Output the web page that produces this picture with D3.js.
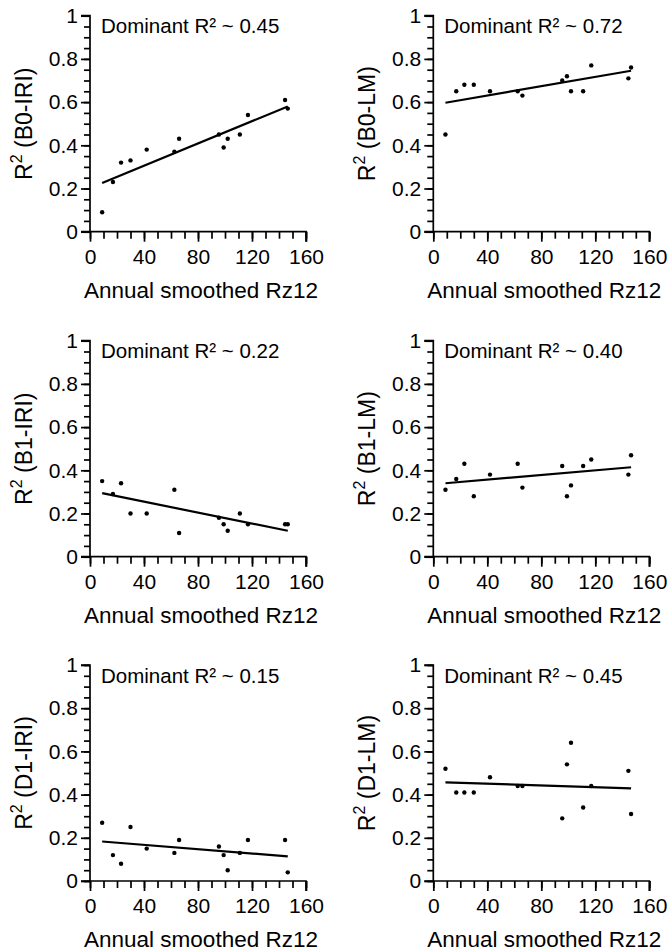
<!DOCTYPE html>
<html>
<head>
<meta charset="utf-8">
<script src="https://cdn.jsdelivr.net/npm/d3@7"></script>
<style>
  body { margin: 0; background: #fff; }
  svg text { font-family: "Liberation Sans", Arial, sans-serif; fill: #000; }
</style>
</head>
<body>
<div id="chart"></div>
<script>
// annual smoothed sunspot number (same for every panel)
var rz12 = [9, 17, 23, 30, 42, 62.5, 66, 95.5, 99, 102, 111, 117, 144.5, 146.5];

var b0Iri = [0.09, 0.23, 0.32, 0.33, 0.38, 0.37, 0.43, 0.45, 0.39, 0.43, 0.45, 0.54, 0.61, 0.57];
var b0Lm  = [0.45, 0.65, 0.68, 0.68, 0.65, 0.65, 0.63, 0.70, 0.72, 0.65, 0.65, 0.77, 0.71, 0.76];
var b1Iri = [0.35, 0.29, 0.34, 0.20, 0.20, 0.31, 0.11, 0.18, 0.15, 0.12, 0.20, 0.15, 0.15, 0.15];
var b1Lm  = [0.31, 0.36, 0.43, 0.28, 0.38, 0.43, 0.32, 0.42, 0.28, 0.33, 0.42, 0.45, 0.38, 0.47];
var d1Iri = [0.27, 0.12, 0.08, 0.25, 0.15, 0.13, 0.19, 0.16, 0.12, 0.05, 0.13, 0.19, 0.19, 0.04];
var d1Lm  = [0.52, 0.41, 0.41, 0.41, 0.48, 0.44, 0.44, 0.29, 0.54, 0.64, 0.34, 0.44, 0.51, 0.31];

// linear fit values at the first and last Rz12
var fitX = [9, 146.5];
var fitB0Iri = [0.225, 0.58];
var fitB0Lm  = [0.597, 0.745];
var fitB1Iri = [0.294, 0.12];
var fitB1Lm  = [0.34, 0.414];
var fitD1Iri = [0.183, 0.114];
var fitD1Lm  = [0.457, 0.429];

var panelNames = ["B0-IRI", "B0-LM", "B1-IRI", "B1-LM", "D1-IRI", "D1-LM"];
var dominant = ["0.45", "0.72", "0.22", "0.40", "0.15", "0.45"];
var xTicks = [0, 40, 80, 120, 160];
var yTicks = [0, 0.2, 0.4, 0.6, 0.8, 1];

var series = [b0Iri, b0Lm, b1Iri, b1Lm, d1Iri, d1Lm];
var fits = [fitB0Iri, fitB0Lm, fitB1Iri, fitB1Lm, fitD1Iri, fitD1Lm];

var W = 668, H = 952,
    size = 216,
    colLeft = [90, 433.3],
    rowTop = [15.7, 340.7, 665];

var svg = d3.select("#chart").append("svg")
    .attr("width", W).attr("height", H);

var x = d3.scaleLinear().domain([0, 160]).range([0, size]),
    y = d3.scaleLinear().domain([0, 1]).range([size, 0]);

panelNames.forEach(function (name, i) {
    var g = svg.append("g")
        .attr("transform", "translate(" + colLeft[i % 2] + "," + rowTop[Math.floor(i / 2)] + ")");

    // minor ticks
    g.append("g")
        .call(d3.axisLeft(y).tickValues(d3.range(0, 1.001, 0.05)).tickSize(6).tickFormat(""))
        .call(function (a) { a.select(".domain").remove(); });
    g.append("g")
        .attr("transform", "translate(0," + size + ")")
        .call(d3.axisBottom(x).tickValues(d3.range(0, 161, 10)).tickSize(7).tickFormat(""))
        .call(function (a) { a.select(".domain").remove(); });

    // major ticks + labels
    var ya = g.append("g")
        .call(d3.axisLeft(y).tickValues(yTicks).tickSize(9).tickPadding(3)
            .tickFormat(function (d) { return String(+d.toFixed(1)); }));
    ya.select(".domain").attr("d", "M-9," + size + "H0V0H-9");
    var xa = g.append("g")
        .attr("transform", "translate(0," + size + ")")
        .call(d3.axisBottom(x).tickValues(xTicks).tickSize(10).tickPadding(7));
    xa.select(".domain").attr("d", "M0,0H" + size + "V10");

    g.selectAll(".tick line, .domain").attr("stroke", "#000").attr("stroke-width", 1.7);
    g.selectAll(".tick text").style("font-size", "21px");

    // regression line
    g.append("line")
        .attr("x1", x(fitX[0])).attr("y1", y(fits[i][0]))
        .attr("x2", x(fitX[1])).attr("y2", y(fits[i][1]))
        .attr("stroke", "#000").attr("stroke-width", 2.2);

    // points
    g.selectAll("circle")
        .data(series[i])
        .enter().append("circle")
        .attr("cx", function (d, j) { return x(rz12[j]); })
        .attr("cy", function (d) { return y(d); })
        .attr("r", 2.2)
        .attr("fill", "#000");

    // annotation
    g.append("text")
        .attr("x", 11).attr("y", 17.5)
        .style("font-size", "20.5px")
        .text("Dominant R\u00b2 ~ " + dominant[i]);

    // axis titles
    g.append("text")
        .attr("x", size / 2 + 3).attr("y", size + 66)
        .attr("text-anchor", "middle")
        .style("font-size", "22.5px")
        .text("Annual smoothed Rz12");

    var yt = g.append("text")
        .attr("transform", "translate(-58," + (size / 2) + ") rotate(-90)")
        .attr("text-anchor", "middle")
        .style("font-size", "23px");
    yt.append("tspan").text("R");
    yt.append("tspan").attr("dy", -10).style("font-size", "16px").text("2");
    yt.append("tspan").attr("dy", 10).text(" (" + name + ")");
});
</script>
</body>
</html>
